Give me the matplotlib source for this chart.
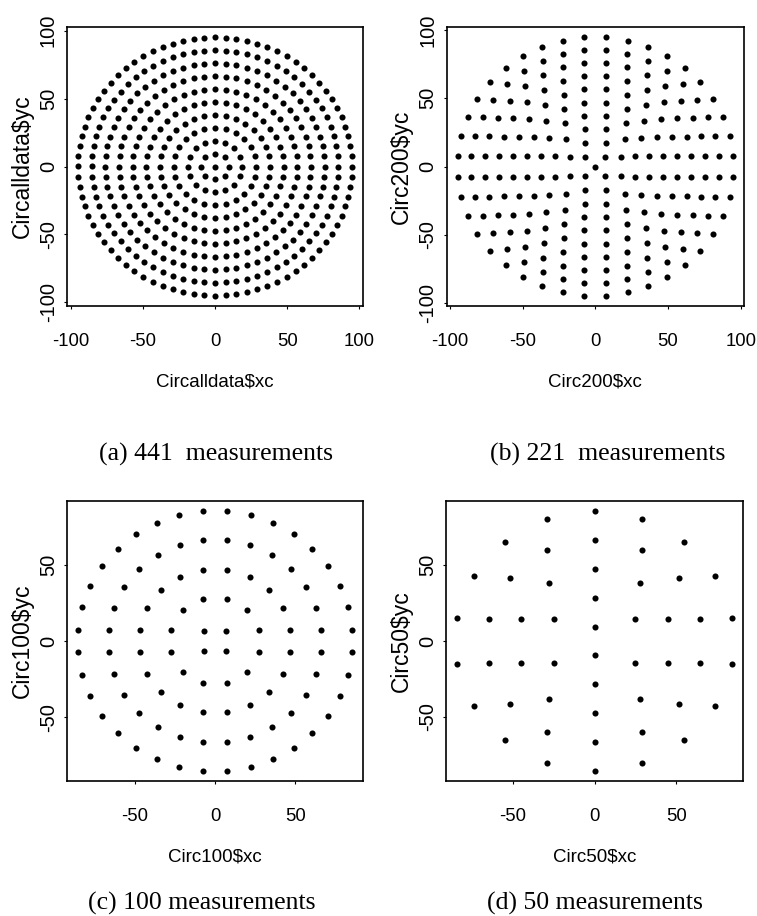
import numpy as np
import matplotlib
matplotlib.use("Agg")
import matplotlib.pyplot as plt

# ring layout of the measurement sites: radius, sites per ring, angle of first site (deg)
RING_R = [9.5, 19.0, 28.5, 38.0, 47.5, 57.0, 66.5, 76.0, 85.5, 95.0]
ODD_R = [9.5, 28.5, 47.5, 66.5, 85.5]

COUNT_441 = [8, 16, 24, 32, 40, 48, 56, 64, 72, 80]
START_441 = [0, 0, 0, 0, 0, 0, 0, 0, 0, 0]

COUNT_221 = [4, 8, 12, 16, 20, 24, 28, 32, 36, 40]
START_221 = [45, 22.5, 15, 11.25, 9, 7.5, 6.43, 5.625, 5, 4.5]

COUNT_100 = [4, 12, 20, 28, 36]
START_100 = [45, 15, 9, 6.43, 5]

COUNT_50 = [2, 6, 10, 14, 18]
START_50 = [90, 90, 90, 90, 90]

NAMES = ["Circalldata", "Circ200", "Circ100", "Circ50"]
CAPTIONS = ["(a) 441  measurements", "(b) 221  measurements",
            "(c) 100 measurements", "(d) 50 measurements"]
TICKS_WIDE = [-100, -50, 0, 50, 100]
TICKS_NARROW = [-50, 0, 50]

W, H = 757, 916


def ring_points(radii, counts, starts, centre):
    xs, ys = [], []
    if centre:
        xs.append(0.0)
        ys.append(0.0)
    for r, n, a0 in zip(radii, counts, starts):
        ang = np.deg2rad(a0 + np.arange(n) * 360.0 / n)
        xs.extend(r * np.cos(ang))
        ys.extend(r * np.sin(ang))
    return np.array(xs), np.array(ys)


def r_limits(v):
    lo, hi = v.min(), v.max()
    pad = 0.04 * (hi - lo)
    return lo - pad, hi + pad


panels = [
    ring_points(RING_R, COUNT_441, START_441, True),
    ring_points(RING_R, COUNT_221, START_221, True),
    ring_points(ODD_R, COUNT_100, START_100, False),
    ring_points(ODD_R, COUNT_50, START_50, False),
]

# axes boxes in pixels: left, top, right, bottom
boxes = [(67, 27, 363, 306), (446.5, 27, 744, 306),
         (67, 501, 363, 781), (446, 501, 743, 781)]
ticks = [TICKS_WIDE, TICKS_WIDE, TICKS_NARROW, TICKS_NARROW]
cap_x = [216, 608, 202, 595]
cap_y = [461, 461, 910, 910]

plt.rcParams["font.family"] = "Liberation Sans"

fig = plt.figure(figsize=(W / 100, H / 100), dpi=100)

for i, (xs, ys) in enumerate(panels):
    l, t, r, b = boxes[i]
    ax = fig.add_axes([l / W, 1 - b / H, (r - l) / W, (b - t) / H])
    ax.plot(xs, ys, "o", color="black", ms=4.4, mew=0)
    ax.set_xlim(*r_limits(xs))
    ax.set_ylim(*r_limits(ys))
    ax.set_xticks(ticks[i])
    ax.set_yticks(ticks[i])
    ax.set_xticklabels([str(v) for v in ticks[i]], fontsize=13.3)
    ax.set_yticklabels([str(v) for v in ticks[i]], rotation=90, va="center",
                       fontsize=14.5)
    ax.tick_params(length=2.5, width=0.8, direction="out")
    ax.tick_params(axis="x", pad=17)
    ax.tick_params(axis="y", pad=4)
    for s in ax.spines.values():
        s.set_linewidth(1.2)
    ax.set_xlabel(NAMES[i] + "$xc", fontsize=13.5, va="center")
    ax.set_ylabel(NAMES[i] + "$yc", fontsize=16.5, va="center")
    ax.xaxis.set_label_coords(0.5, -76 / (b - t))
    ax.yaxis.set_label_coords(-45 / (r - l), 0.5)
    fig.text(cap_x[i] / W, 1 - cap_y[i] / H, CAPTIONS[i], ha="center",
             va="baseline", fontsize=18.5, family="Liberation Serif")

fig.savefig("out.png", dpi=100)
